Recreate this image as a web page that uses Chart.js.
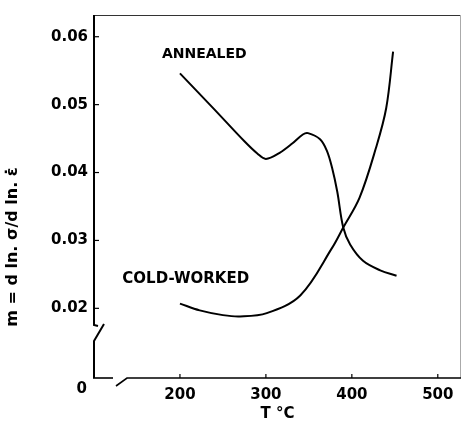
<!DOCTYPE html>
<html>
<head>
<meta charset="utf-8">
<script src="https://cdn.jsdelivr.net/npm/chart.js@4.4.0/dist/chart.umd.min.js"></script>
<style>
html,body{margin:0;padding:0;background:#fff;}
#wrap{width:462px;height:423px;}
</style>
</head>
<body>
<div id="wrap"><canvas id="c" width="462" height="423"></canvas></div>
<script>
// Data
const annealedT = [200, 240, 275, 290, 300, 316, 331, 343, 349, 363, 371, 377, 383, 390, 398, 413, 433, 452];
const annealedM = [0.0546, 0.0493, 0.0446, 0.0428, 0.0420, 0.0429, 0.0443, 0.0456, 0.0458, 0.0449, 0.0432, 0.0407, 0.0372, 0.0319, 0.0294, 0.0270, 0.0256, 0.0248];
const coldT = [200, 223, 250, 270, 301, 340, 377, 390, 409, 428, 440, 448];
const coldM = [0.0207, 0.0197, 0.0190, 0.0188, 0.0193, 0.0219, 0.0289, 0.0319, 0.0363, 0.0436, 0.0495, 0.0578];
const xTicks = [200, 300, 400, 500];
const yTicks = [0.02, 0.03, 0.04, 0.05, 0.06];
const xTitle = 'T °C';
const yTitle = 'm = d ln. σ/d ln. ε̇';
const originLabel = '0';
const seriesLabels = [
  {text: 'ANNEALED', t: 179, m: 0.0574, size: 14},
  {text: 'COLD-WORKED', t: 133, m: 0.0243, size: 15}
];

const FONT = '"DejaVu Sans", sans-serif';

const decor = {
  id: 'decor',
  afterDraw(chart) {
    const ctx = chart.ctx;
    const a = chart.chartArea;
    const xs = chart.scales.x, ys = chart.scales.y;
    ctx.save();
    ctx.lineCap = 'butt';
    // top and right frame (thin)
    ctx.lineWidth = 1;
    ctx.strokeStyle = '#333';
    ctx.beginPath();
    ctx.moveTo(a.left, a.top + 0.5); ctx.lineTo(a.right, a.top + 0.5);
    ctx.stroke();
    ctx.strokeStyle = '#aaa';
    ctx.beginPath();
    ctx.moveTo(a.right - 0.5, a.top); ctx.lineTo(a.right - 0.5, a.bottom);
    ctx.stroke();
    // left axis with break
    ctx.strokeStyle = '#000';
    ctx.lineWidth = 2;
    const L = a.left;
    ctx.beginPath();
    ctx.moveTo(L, a.top); ctx.lineTo(L, a.bottom - 53);
    ctx.lineTo(L + 4, a.bottom - 52);
    ctx.stroke();
    ctx.beginPath();
    ctx.moveTo(L + 10, a.bottom - 54);
    ctx.lineTo(L, a.bottom - 37);
    ctx.lineTo(L, a.bottom);
    ctx.stroke();
    // bottom axis with break
    ctx.lineWidth = 1.6;
    const B = a.bottom;
    ctx.beginPath();
    ctx.moveTo(L - 1, B); ctx.lineTo(L + 19, B);
    ctx.stroke();
    ctx.beginPath();
    ctx.moveTo(L + 22, B + 8);
    ctx.lineTo(L + 33, B);
    ctx.lineTo(a.right, B);
    ctx.stroke();
    // inward tick marks
    ctx.lineWidth = 1.2;
    yTicks.forEach(v => {
      const y = ys.getPixelForValue(v);
      ctx.beginPath(); ctx.moveTo(L, y); ctx.lineTo(L + 5, y); ctx.stroke();
    });
    xTicks.forEach(v => {
      const x = xs.getPixelForValue(v);
      ctx.beginPath(); ctx.moveTo(x, B); ctx.lineTo(x, B - 4); ctx.stroke();
    });
    // origin label
    ctx.fillStyle = '#000';
    ctx.font = 'bold 15px ' + FONT;
    ctx.textAlign = 'right';
    ctx.textBaseline = 'middle';
    ctx.fillText(originLabel, L - 7, B + 11);
    // series labels
    ctx.textAlign = 'left';
    seriesLabels.forEach(s => {
      ctx.font = 'bold ' + s.size + 'px ' + FONT;
      ctx.fillText(s.text, xs.getPixelForValue(s.t), ys.getPixelForValue(s.m));
    });
    // y title (rotated)
    ctx.save();
    ctx.translate(13, 247);
    ctx.rotate(-Math.PI / 2);
    ctx.textAlign = 'center';
    ctx.font = 'bold 16px ' + FONT;
    ctx.fillText(yTitle, 0, 0);
    ctx.restore();
    ctx.restore();
  }
};

new Chart(document.getElementById('c'), {
  type: 'line',
  data: {
    datasets: [
      {label: 'Annealed', data: annealedT.map((t, i) => ({x: t, y: annealedM[i]})),
       borderColor: '#000', borderWidth: 2, pointRadius: 0, fill: false, tension: 0.35},
      {label: 'Cold-worked', data: coldT.map((t, i) => ({x: t, y: coldM[i]})),
       borderColor: '#000', borderWidth: 2, pointRadius: 0, fill: false, tension: 0.35}
    ]
  },
  options: {
    responsive: false,
    animation: false,
    layout: {padding: {top: 13, right: 1, left: 0, bottom: 0}},
    plugins: {legend: {display: false}, tooltip: {enabled: false}},
    scales: {
      x: {
        type: 'linear', min: 100, max: 527,
        grid: {display: false, drawTicks: false},
        border: {display: false},
        afterBuildTicks: s => { s.ticks = xTicks.map(v => ({value: v})); },
        afterFit: s => { s.height = 45; },
        ticks: {padding: 8, color: '#000', font: {family: FONT, size: 15, weight: 'bold'}, callback: v => String(v)},
        title: {display: true, text: xTitle, color: '#000', padding: {top: 0, bottom: 0},
                font: {family: FONT, size: 15, weight: 'bold'}}
      },
      y: {
        type: 'linear', min: 0.00974, max: 0.0632,
        grid: {display: false, drawTicks: false},
        border: {display: false},
        afterBuildTicks: s => { s.ticks = yTicks.map(v => ({value: v})); },
        afterFit: s => { s.width = 94; },
        ticks: {padding: 6, color: '#000', font: {family: FONT, size: 15, weight: 'bold'}, callback: v => v.toFixed(2)}
      }
    }
  },
  plugins: [decor]
});
</script>
</body>
</html>
